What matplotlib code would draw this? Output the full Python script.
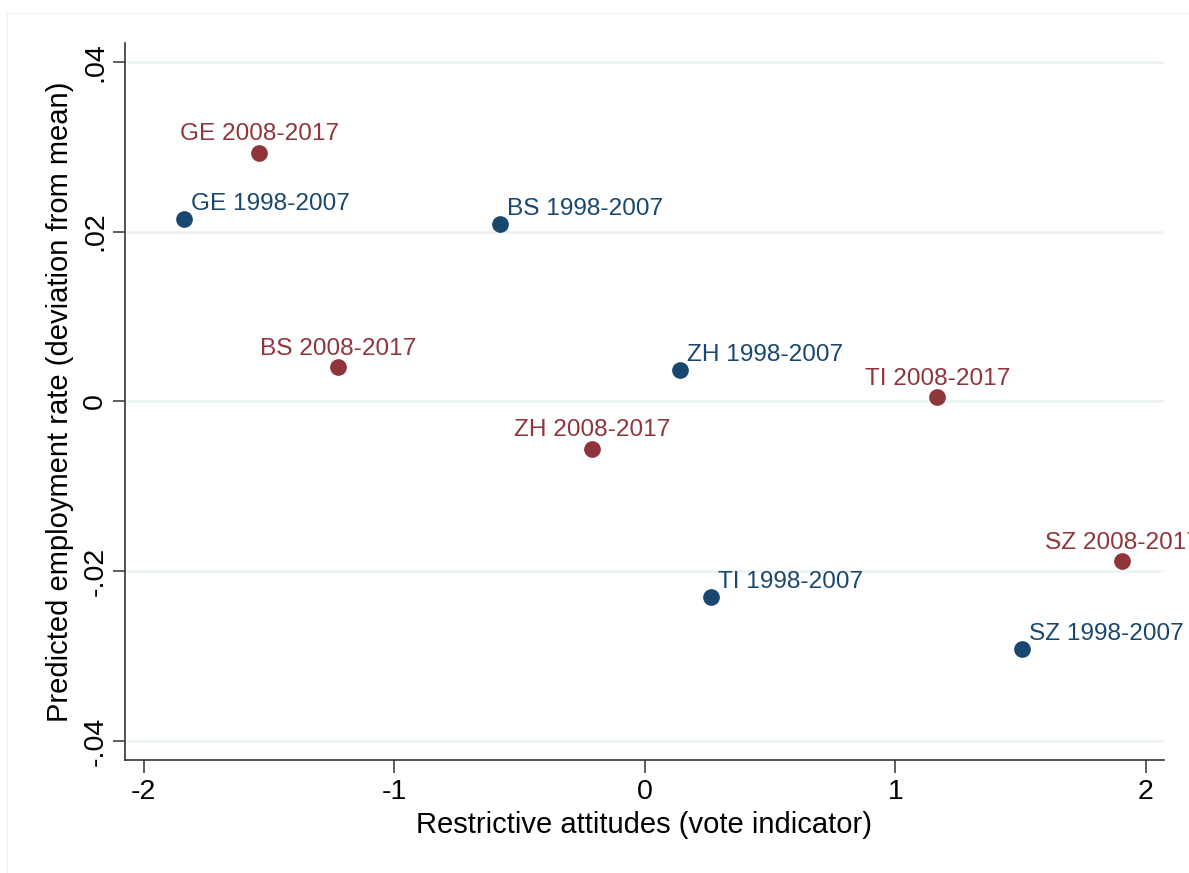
import matplotlib
matplotlib.use("Agg")
import matplotlib.pyplot as plt
from matplotlib.patches import Rectangle

plt.rcParams['font.family'] = ['Liberation Sans', 'DejaVu Sans']

# canton-period points: vote indicator vs predicted employment deviation
labels_early = ["GE 1998-2007", "BS 1998-2007", "ZH 1998-2007", "TI 1998-2007", "SZ 1998-2007"]
x_early = [-1.840, -0.576, 0.141, 0.266, 1.507]
y_early = [0.0215, 0.0209, 0.0037, -0.0230, -0.0292]

labels_late = ["GE 2008-2017", "BS 2008-2017", "ZH 2008-2017", "TI 2008-2017", "SZ 2008-2017"]
x_late = [-1.538, -1.223, -0.210, 1.168, 1.906]
y_late = [0.0293, 0.0040, -0.0056, 0.0005, -0.0188]

xticks = [-2, -1, 0, 1, 2]
yticks = [0.04, 0.02, 0.0, -0.02, -0.04]
ytick_labels = [".04", ".02", "0", "-.02", "-.04"]

BLUE = "#1a476f"
RED = "#90353b"
GRID = "#eaf2f3"

fig = plt.figure(figsize=(11.89, 8.73), dpi=100)
fig.patches.append(Rectangle((0.006, -0.01), 1.1, 0.995, transform=fig.transFigure,
                             fill=False, edgecolor="#f2f2f2", linewidth=1))
ax = fig.add_axes([0.1051, 0.1294, 0.8739, 0.8213])

ax.set_xlim(-2.074, 2.072)
ax.set_ylim(-0.04224, 0.0422)

for yv in yticks:
    ax.axhline(yv, color=GRID, linewidth=1.8, zorder=0)

ax.scatter(x_early, y_early, s=145, color=BLUE, zorder=3, linewidths=0)
ax.scatter(x_late, y_late, s=145, color=RED, zorder=3, linewidths=0)

for lab, xv, yv in zip(labels_early, x_early, y_early):
    ax.annotate(lab, (xv, yv), xytext=(5, 6.5), textcoords="offset points",
                ha="left", va="baseline", color=BLUE, fontsize=17.6,
                annotation_clip=False)
for lab, xv, yv in zip(labels_late, x_late, y_late):
    ax.annotate(lab, (xv, yv), xytext=(0, 9), textcoords="offset points",
                ha="center", va="baseline", color=RED, fontsize=17.6,
                annotation_clip=False)

ax.set_xticks(xticks)
ax.set_xticklabels([str(t) for t in xticks])
ax.set_yticks(yticks)
ax.set_yticklabels(ytick_labels, rotation=90, va="center")

ax.tick_params(axis="both", length=9, width=1.1, color="#333333", labelsize=20.5, pad=5)
ax.tick_params(axis="y", pad=3)

for side in ["top", "right"]:
    ax.spines[side].set_visible(False)
for side in ["left", "bottom"]:
    ax.spines[side].set_linewidth(1.2)
    ax.spines[side].set_color("#333333")

ax.set_xlabel("Restrictive attitudes (vote indicator)", fontsize=21, labelpad=4)
ax.set_ylabel("Predicted employment rate (deviation from mean)", fontsize=21, labelpad=6)

fig.savefig("out.png", dpi=100)
